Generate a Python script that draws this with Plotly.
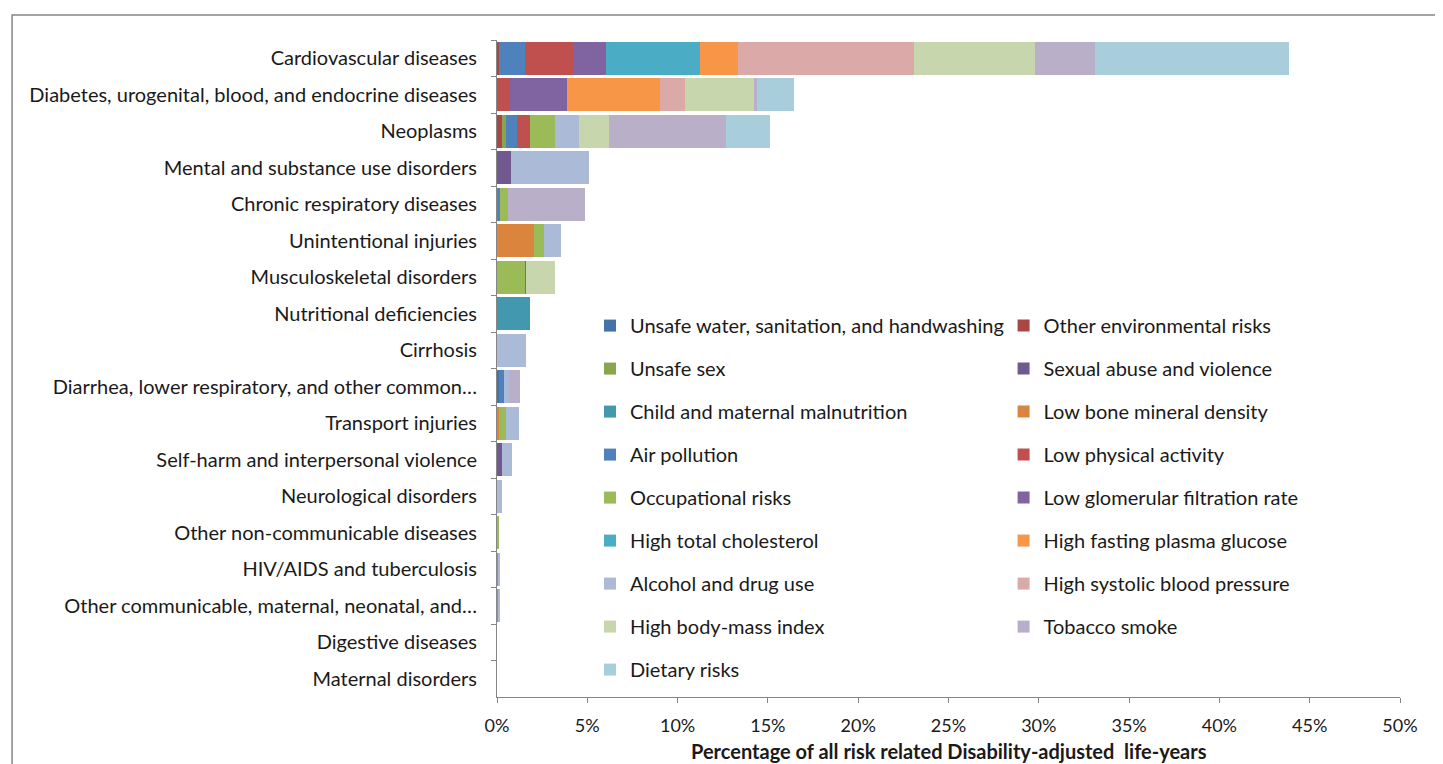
import plotly.graph_objects as go

categories = [
    "Cardiovascular diseases",
    "Diabetes, urogenital, blood, and endocrine diseases",
    "Neoplasms",
    "Mental and substance use disorders",
    "Chronic respiratory diseases",
    "Unintentional injuries",
    "Musculoskeletal disorders",
    "Nutritional deficiencies",
    "Cirrhosis",
    "Diarrhea, lower respiratory, and other common…",
    "Transport injuries",
    "Self-harm and interpersonal violence",
    "Neurological disorders",
    "Other non-communicable diseases",
    "HIV/AIDS and tuberculosis",
    "Other communicable, maternal, neonatal, and…",
    "Digestive diseases",
    "Maternal disorders",
]

# values in % of all risk-related DALYs, one list per risk factor (category order above)
unsafe_water =      [0, 0, 0, 0, 0, 0, 0, 0, 0, 0.12, 0, 0, 0, 0, 0, 0.02, 0, 0]
other_env =         [0.13, 0, 0.26, 0, 0, 0, 0, 0, 0, 0, 0, 0, 0, 0, 0, 0, 0, 0]
unsafe_sex =        [0, 0, 0.26, 0, 0, 0, 0, 0, 0, 0, 0, 0, 0, 0, 0.09, 0.09, 0, 0]
sexual_abuse =      [0, 0, 0, 0.78, 0, 0, 0, 0, 0, 0, 0, 0.26, 0, 0, 0, 0, 0, 0]
child_malnutrition = [0, 0, 0, 0, 0, 0, 0, 1.85, 0, 0, 0, 0, 0, 0, 0, 0, 0, 0]
low_bone =          [0, 0, 0, 0, 0, 2.03, 0, 0, 0, 0, 0.13, 0, 0, 0, 0, 0, 0, 0]
air_pollution =     [1.44, 0, 0.61, 0, 0.18, 0, 0, 0, 0, 0.25, 0, 0, 0, 0, 0, 0, 0, 0]
low_physical =      [2.62, 0.70, 0.72, 0, 0, 0, 0, 0, 0, 0, 0, 0, 0, 0, 0, 0, 0, 0]
occupational =      [0, 0, 1.38, 0, 0.41, 0.55, 1.57, 0, 0, 0, 0.35, 0, 0, 0.13, 0, 0, 0, 0]
low_gfr =           [1.86, 3.19, 0, 0, 0, 0, 0.04, 0, 0, 0, 0, 0, 0, 0, 0, 0, 0, 0]
high_chol =         [5.20, 0, 0, 0, 0, 0, 0, 0, 0, 0, 0, 0, 0, 0, 0, 0, 0, 0]
high_fpg =          [2.12, 5.15, 0, 0, 0, 0, 0, 0, 0, 0, 0, 0, 0, 0, 0, 0, 0, 0]
alcohol =           [0, 0, 1.29, 4.32, 0, 0.98, 0, 0, 1.62, 0.28, 0.74, 0.55, 0.26, 0, 0.09, 0.03, 0, 0]
high_sbp =          [9.74, 1.37, 0, 0, 0, 0, 0, 0, 0, 0, 0, 0, 0, 0, 0, 0, 0, 0]
high_bmi =          [6.70, 3.82, 1.66, 0, 0, 0, 1.61, 0, 0, 0, 0, 0, 0, 0, 0, 0, 0, 0]
tobacco =           [3.30, 0.18, 6.48, 0, 4.28, 0, 0, 0, 0, 0.63, 0, 0, 0, 0, 0, 0, 0, 0]
dietary =           [10.72, 2.03, 2.47, 0, 0, 0, 0, 0, 0, 0, 0, 0, 0, 0, 0, 0, 0, 0]

series_names = [
    "Unsafe water, sanitation, and handwashing",
    "Other environmental risks",
    "Unsafe sex",
    "Sexual abuse and violence",
    "Child and maternal malnutrition",
    "Low bone mineral density",
    "Air pollution",
    "Low physical activity",
    "Occupational risks",
    "Low glomerular filtration rate",
    "High total cholesterol",
    "High fasting plasma glucose",
    "Alcohol and drug use",
    "High systolic blood pressure",
    "High body-mass index",
    "Tobacco smoke",
    "Dietary risks",
]
series_values = [
    unsafe_water, other_env, unsafe_sex, sexual_abuse, child_malnutrition,
    low_bone, air_pollution, low_physical, occupational, low_gfr, high_chol,
    high_fpg, alcohol, high_sbp, high_bmi, tobacco, dietary,
]
series_colors = [
    "#4572A7", "#AA4643", "#89A54E", "#71588F", "#4198AF",
    "#DB843D", "#4F81BD", "#C0504D", "#9BBB59", "#8064A2", "#4BACC6",
    "#F79646", "#AABAD7", "#DBA9A8", "#C7D6AD", "#B9AFC9", "#A8CEDC",
]
x_title = "Percentage of all risk related Disability-adjusted  life-years"

FONT = "Lato, 'Open Sans', sans-serif"
TXT = "#1a1a1a"

fig = go.Figure()
for i, (name, vals, col) in enumerate(zip(series_names, series_values, series_colors)):
    fig.add_trace(go.Bar(
        y=categories, x=vals, name=name, orientation="h",
        marker=dict(color=col, line=dict(width=0)),
        legend="legend" if i % 2 == 0 else "legend2",
        legendgroup=name,
    ))

legend_common = dict(
    bgcolor="rgba(0,0,0,0)",
    font=dict(family=FONT, size=20, color=TXT),
    tracegroupgap=14,
    orientation="v",
    yanchor="top",
    xanchor="left",
    traceorder="grouped",
)

fig.update_layout(
    barmode="stack",
    bargap=0.1,
    width=1435, height=756,
    margin=dict(l=489, r=43, t=32, b=67, autoexpand=False),
    paper_bgcolor="white",
    plot_bgcolor="white",
    font=dict(family=FONT, size=20, color=TXT),
    showlegend=True,
    legend=dict(x=0.103, y=0.595, **legend_common),
    legend2=dict(x=0.561, y=0.595, **legend_common),
    xaxis=dict(
        range=[0, 50], dtick=5, ticksuffix="%",
        showgrid=False, zeroline=False,
        showline=True, linecolor="#868686", linewidth=1,
        ticks="outside", ticklen=5, tickcolor="#868686",
        ticklabelstandoff=7,
        tickfont=dict(family=FONT, size=18, color=TXT),
        automargin=False,
        fixedrange=True,
    ),
    yaxis=dict(
        categoryorder="array", categoryarray=categories,
        autorange="reversed",
        showgrid=False, zeroline=False,
        showline=True, linecolor="#868686", linewidth=1,
        ticks="outside", ticklen=5, tickcolor="#868686",
        tickson="boundaries",
        ticklabelstandoff=15,
        tickfont=dict(family=FONT, size=20, color=TXT),
        automargin=False,
        fixedrange=True,
    ),
    annotations=[dict(
        text="<b>" + x_title + "</b>",
        xref="paper", yref="paper", x=0.5, y=-0.082,
        xanchor="center", yanchor="middle", showarrow=False,
        font=dict(family=FONT, size=20, color=TXT),
    )],
    shapes=[dict(
        type="rect", xref="paper", yref="paper",
        x0=-0.537, x1=1.1, y0=-0.2, y1=1.038,
        line=dict(color="#868686", width=1.5),
        fillcolor="rgba(0,0,0,0)", layer="below",
    )],
)

fig.write_html("out.html")
